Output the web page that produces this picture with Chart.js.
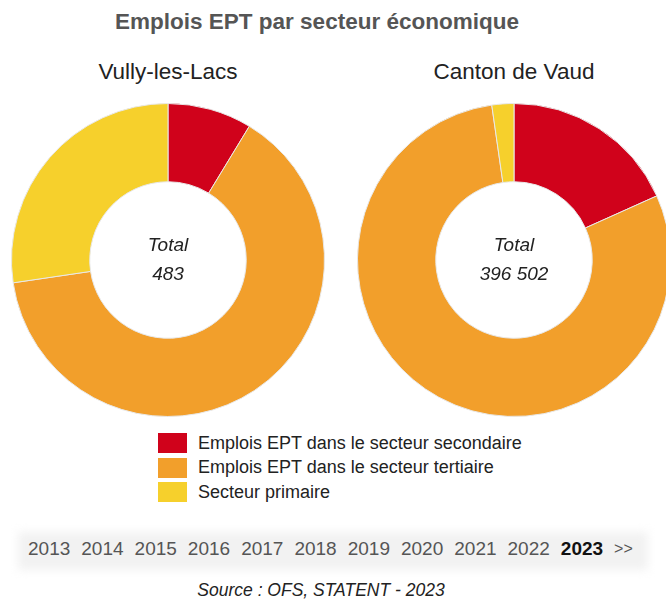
<!DOCTYPE html>
<html lang="fr">
<head>
<meta charset="utf-8">
<title>Emplois EPT par secteur économique</title>
<script src="https://cdn.jsdelivr.net/npm/chart.js@4"></script>
<style>
    html, body { margin: 0; padding: 0; background: #fff; }
    body { width: 666px; height: 600px; overflow: hidden; position: relative; font-family: "Liberation Sans", Arial, sans-serif; }
    .main-title { position: absolute; top: 9px; left: 0; width: 634px; text-align: center; font-size: 22.5px; font-weight: bold; color: #555; }
    .sub-title { position: absolute; top: 59px; width: 320px; text-align: center; font-size: 22.5px; color: #222; }
    canvas { position: absolute; top: 103px; }
    #vullyChart { left: 11px; }
    #vaudChart { left: 357px; }
    .legend { position: absolute; top: 431px; left: 158px; font-size: 18px; color: #222; }
    .legend-row { display: flex; align-items: center; height: 24.5px; }
    .legend-box { width: 29px; height: 20px; margin-right: 11px; }
    .years-band { position: absolute; top: 532px; left: 18px; width: 630px; height: 38px; background: #f2f2f2; filter: blur(5px); }
    .years { position: absolute; top: 538px; left: 28px; display: flex; gap: 11px; font-size: 19px; color: #555; white-space: nowrap; }
    .years .current { font-weight: bold; color: #111; }
    .years .next { font-size: 16px; margin-top: 2px; margin-left: 0; }
    .source { position: absolute; top: 580px; left: 0; width: 642px; text-align: center; font-size: 17.5px; font-style: italic; color: #222; }
</style>
</head>
<body>
<div class="main-title">Emplois EPT par secteur économique</div>
<div class="sub-title" style="left: 8px;">Vully-les-Lacs</div>
<div class="sub-title" style="left: 354px;">Canton de Vaud</div>
<canvas id="vullyChart" width="314" height="314"></canvas>
<canvas id="vaudChart" width="314" height="314"></canvas>
<div class="legend" id="legend"></div>
<div class="years-band"></div>
<div class="years" id="years"></div>
<div class="source">Source : OFS, STATENT - 2023</div>

<script>
const categories = [
    'Emplois EPT dans le secteur secondaire',
    'Emplois EPT dans le secteur tertiaire',
    'Secteur primaire'
];
const sectorColors = ['#D0021B', '#F29F2B', '#F6D02C'];
const vullyValues = [42, 309, 132];
const vaudValues = [72500, 315000, 9002];
const years = ['2013', '2014', '2015', '2016', '2017', '2018', '2019', '2020', '2021', '2022', '2023'];
const currentYear = '2023';

function formatTotal(n) {
    return String(n).replace(/\B(?=(\d{3})+(?!\d))/g, ' ');
}

// writes "Total" and the sum in the hole of the doughnut
const centerTotal = {
    id: 'centerTotal',
    afterDraw(chart) {
        const meta = chart.getDatasetMeta(0);
        if (!meta.data.length) return;
        const x = meta.data[0].x;
        const y = meta.data[0].y;
        const total = chart.data.datasets[0].data.reduce((a, b) => a + b, 0);
        const ctx = chart.ctx;
        ctx.save();
        ctx.fillStyle = '#222';
        ctx.textAlign = 'center';
        ctx.textBaseline = 'middle';
        ctx.font = 'italic 19px "Liberation Sans", Arial, sans-serif';
        ctx.fillText('Total', x, y - 14);
        ctx.fillText(formatTotal(total), x, y + 15);
        ctx.restore();
    }
};

function makeDoughnut(canvasId, values) {
    const ctx = document.getElementById(canvasId).getContext('2d');
    return new Chart(ctx, {
        type: 'doughnut',
        data: {
            labels: categories,
            datasets: [{
                data: values,
                backgroundColor: sectorColors,
                borderColor: '#e8e8e8',
                borderWidth: 1
            }]
        },
        options: {
            responsive: false,
            animation: false,
            cutout: '50%',
            layout: { padding: 0 },
            plugins: {
                legend: { display: false },
                tooltip: { enabled: false }
            }
        },
        plugins: [centerTotal]
    });
}

document.addEventListener('DOMContentLoaded', function () {
    makeDoughnut('vullyChart', vullyValues);
    makeDoughnut('vaudChart', vaudValues);

    const legend = document.getElementById('legend');
    categories.forEach((label, i) => {
        const row = document.createElement('div');
        row.className = 'legend-row';
        row.innerHTML = `<span class="legend-box" style="background:${sectorColors[i]}"></span><span>${label}</span>`;
        legend.appendChild(row);
    });

    const yearsRow = document.getElementById('years');
    years.forEach(y => {
        const span = document.createElement('span');
        span.textContent = y;
        if (y === currentYear) span.className = 'current';
        yearsRow.appendChild(span);
    });
    const next = document.createElement('span');
    next.className = 'next';
    next.textContent = '>>';
    yearsRow.appendChild(next);
});
</script>
</body>
</html>
